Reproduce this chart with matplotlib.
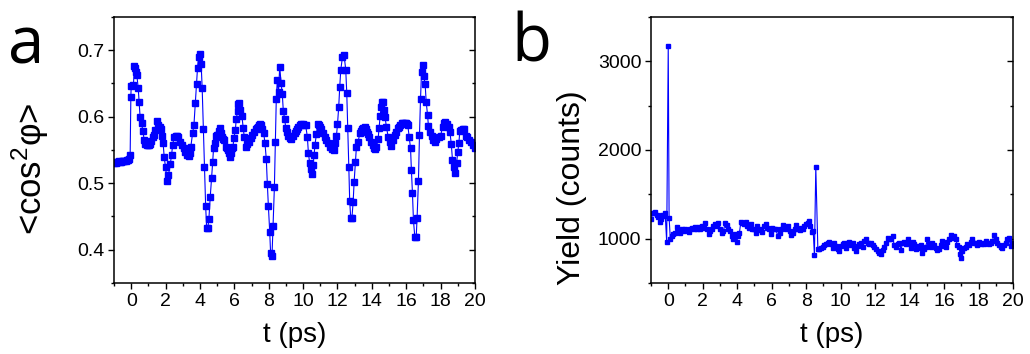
import matplotlib
matplotlib.use("Agg")
import matplotlib.pyplot as plt
import matplotlib.lines as mlines
from matplotlib.ticker import MultipleLocator

# ---------------- data: panel a  (<cos^2 phi> vs delay) ----------------
t_a = [-1.0, -0.93, -0.87, -0.8, -0.73, -0.67, -0.6, -0.53, -0.47, -0.4, -0.33, -0.27, -0.2, -0.13, -0.06,
       -0.02, 0.0, 0.13, 0.19, 0.25, 0.29, 0.33, 0.41, 0.46, 0.52, 0.6, 0.68, 0.755, 0.83, 0.9, 0.97,
       1.03, 1.08, 1.14, 1.24, 1.34, 1.4, 1.51, 1.58, 1.65, 1.72, 1.8, 1.86, 1.92, 2.0, 2.08, 2.17,
       2.27, 2.35, 2.41, 2.5, 2.58, 2.66, 2.74, 2.85, 2.95, 3.05, 3.14, 3.24, 3.34, 3.41, 3.47, 3.57,
       3.65, 3.73, 3.8, 3.86, 3.92, 3.98, 4.07, 4.13, 4.2, 4.26, 4.33, 4.39, 4.46, 4.52, 4.6, 4.68,
       4.74, 4.79, 4.85, 4.91, 4.98, 5.05, 5.12, 5.18, 5.24, 5.3, 5.36, 5.41, 5.49, 5.55, 5.61, 5.67,
       5.73, 5.79, 5.84, 5.92, 5.98, 6.06, 6.11, 6.19, 6.23, 6.27, 6.35, 6.44, 6.52, 6.58, 6.66, 6.75,
       6.85, 6.95, 7.05, 7.14, 7.24, 7.31, 7.38, 7.45, 7.51, 7.57, 7.63, 7.71, 7.78, 7.86, 7.92, 7.98,
       8.06, 8.11, 8.19, 8.25, 8.33, 8.39, 8.44, 8.5, 8.57, 8.64, 8.72, 8.79, 8.85, 8.93, 8.99, 9.07,
       9.14, 9.22, 9.32, 9.41, 9.51, 9.58, 9.65, 9.72, 9.8, 9.9, 10.0, 10.07, 10.15, 10.25, 10.31,
       10.38, 10.46, 10.52, 10.58, 10.64, 10.69, 10.77, 10.85, 10.91, 10.97, 11.06, 11.16, 11.26,
       11.35, 11.45, 11.55, 11.67, 11.78, 11.86, 11.94, 12.0, 12.07, 12.13, 12.19, 12.29, 12.38,
       12.48, 12.54, 12.6, 12.66, 12.71, 12.77, 12.84, 12.91, 12.97, 13.04, 13.1, 13.2, 13.3, 13.37,
       13.43, 13.51, 13.59, 13.66, 13.72, 13.78, 13.84, 13.94, 14.04, 14.1, 14.17, 14.27, 14.36,
       14.42, 14.48, 14.54, 14.6, 14.65, 14.7, 14.77, 14.85, 14.95, 15.04, 15.14, 15.24, 15.33,
       15.43, 15.53, 15.6, 15.66, 15.74, 15.82, 15.9, 15.97, 16.03, 16.09, 16.17, 16.25, 16.3, 16.36,
       16.42, 16.5, 16.58, 16.63, 16.71, 16.77, 16.83, 16.89, 16.95, 17.02, 17.1, 17.16, 17.24,
       17.29, 17.37, 17.47, 17.57, 17.66, 17.76, 17.88, 18.0, 18.11, 18.18, 18.25, 18.36, 18.46,
       18.54, 18.62, 18.69, 18.77, 18.85, 18.93, 19.0, 19.06, 19.12, 19.18, 19.24, 19.3, 19.35,
       19.45, 19.55, 19.66, 19.78, 19.9, 20.0]
cos2_a = [0.531, 0.532, 0.531, 0.532, 0.533, 0.532, 0.532, 0.533, 0.533, 0.534, 0.533, 0.535, 0.535, 0.537, 0.5425,
          0.63, 0.646, 0.6475, 0.6765, 0.673, 0.668, 0.6625, 0.6425, 0.6225, 0.599, 0.59, 0.579, 0.565, 0.559, 0.5575, 0.557,
          0.5575, 0.559, 0.5635, 0.569, 0.5725, 0.58, 0.594, 0.588, 0.584, 0.581, 0.571, 0.56, 0.539, 0.524, 0.504, 0.5125,
          0.5285, 0.5425, 0.5575, 0.57, 0.571, 0.571, 0.57, 0.5625, 0.5575, 0.5525, 0.5475, 0.5425, 0.541, 0.546, 0.555, 0.575,
          0.5875, 0.621, 0.65, 0.674, 0.69, 0.695, 0.679, 0.6425, 0.581, 0.525, 0.4665, 0.4325, 0.4325, 0.4465, 0.48, 0.5085,
          0.5315, 0.5525, 0.56, 0.571, 0.572, 0.5725, 0.578, 0.5835, 0.575, 0.57, 0.567, 0.565, 0.555, 0.553, 0.55, 0.545,
          0.54, 0.546, 0.5525, 0.555, 0.5685, 0.58, 0.5965, 0.6085, 0.619, 0.62, 0.61, 0.601, 0.5835, 0.569, 0.555, 0.5585,
          0.5625, 0.5675, 0.5725, 0.5775, 0.581, 0.583, 0.585, 0.587, 0.5885, 0.587, 0.581, 0.575, 0.561, 0.536, 0.499, 0.466,
          0.426, 0.395, 0.39, 0.436, 0.494, 0.5625, 0.626, 0.656, 0.637, 0.675, 0.651, 0.634, 0.6085, 0.596, 0.5835, 0.5775,
          0.571, 0.5685, 0.566, 0.571, 0.576, 0.578, 0.581, 0.584, 0.5875, 0.589, 0.589, 0.588, 0.5875, 0.569, 0.545,
          0.531, 0.521, 0.514, 0.5275, 0.5425, 0.5575, 0.5735, 0.5885, 0.587, 0.585, 0.581, 0.575, 0.57,
          0.565, 0.56, 0.555, 0.551, 0.55, 0.561, 0.571, 0.5885, 0.614, 0.644, 0.67, 0.69, 0.6935,
          0.671, 0.636, 0.5825, 0.524, 0.474, 0.4475, 0.4475, 0.4715, 0.5025, 0.5315, 0.554, 0.5625, 0.575, 0.579,
          0.581, 0.583, 0.584, 0.581, 0.5775, 0.574, 0.57, 0.5625, 0.5575, 0.553, 0.551, 0.555, 0.566,
          0.5825, 0.601, 0.614, 0.6225, 0.6225, 0.61, 0.599, 0.584, 0.57, 0.5625, 0.556, 0.565, 0.5725,
          0.5775, 0.5825, 0.585, 0.5875, 0.59, 0.591, 0.591, 0.591, 0.589, 0.5875, 0.57, 0.5525, 0.52, 0.486,
          0.444, 0.419, 0.419, 0.4475, 0.5035, 0.5725, 0.6265, 0.6675, 0.6775, 0.661, 0.649, 0.6225, 0.6025,
          0.5865, 0.5775, 0.571, 0.565, 0.5625, 0.566, 0.57, 0.571, 0.585, 0.59, 0.5925, 0.589, 0.584,
          0.5775, 0.559, 0.535, 0.525, 0.515, 0.531, 0.5475, 0.56, 0.579, 0.58, 0.58, 0.581, 0.581,
          0.571, 0.569, 0.565, 0.5625, 0.5575, 0.5525]

# ---------------- data: panel b  (ion yield vs delay) ----------------
t_b = [-0.98, -0.9, -0.82, -0.74, -0.66, -0.58, -0.5, -0.42, -0.34, -0.26, -0.18, -0.09, 0.0, 0.05, 0.12,
       0.195, 0.29, 0.39, 0.5, 0.58, 0.7, 0.79, 0.89, 0.99, 1.08, 1.18, 1.27, 1.37, 1.47, 1.56, 1.66,
       1.76, 1.85, 1.95, 2.05, 2.14, 2.24, 2.34, 2.43, 2.53, 2.62, 2.72, 2.82, 2.91, 3.01, 3.11, 3.2,
       3.3, 3.4, 3.49, 3.59, 3.68, 3.78, 3.88, 3.97, 4.05, 4.13, 4.21, 4.3, 4.4, 4.49, 4.59, 4.69,
       4.78, 4.88, 4.98, 5.07, 5.17, 5.27, 5.36, 5.46, 5.55, 5.65, 5.75, 5.84, 5.94, 6.04, 6.13, 6.23,
       6.36, 6.46, 6.55, 6.65, 6.75, 6.84, 6.94, 7.04, 7.13, 7.23, 7.33, 7.42, 7.52, 7.62, 7.71, 7.81,
       7.9, 8.0, 8.1, 8.19, 8.25, 8.33, 8.41, 8.48, 8.56, 8.68, 8.77, 8.87, 8.96, 9.06, 9.16, 9.25,
       9.35, 9.45, 9.54, 9.64, 9.74, 9.83, 9.93, 10.03, 10.12, 10.22, 10.31, 10.41, 10.51, 10.6, 10.7,
       10.8, 10.89, 10.99, 11.09, 11.18, 11.28, 11.37, 11.47, 11.57, 11.66, 11.76, 11.86, 11.95, 12.05,
       12.15, 12.24, 12.34, 12.43, 12.53, 12.63, 12.72, 12.82, 12.92, 13.01, 13.11, 13.21, 13.3, 13.4,
       13.5, 13.59, 13.69, 13.78, 13.88, 13.98, 14.07, 14.17, 14.27, 14.36, 14.46, 14.55, 14.65, 14.75,
       14.84, 14.94, 15.04, 15.13, 15.23, 15.33, 15.42, 15.52, 15.62, 15.71, 15.81, 15.9, 16.0, 16.1,
       16.19, 16.29, 16.39, 16.48, 16.58, 16.68, 16.77, 16.87, 16.93, 17.0, 17.06, 17.16, 17.25, 17.35,
       17.45, 17.54, 17.64, 17.74, 17.83, 17.93, 18.03, 18.12, 18.22, 18.31, 18.41, 18.51, 18.6, 18.7,
       18.8, 18.89, 18.99, 19.09, 19.18, 19.28, 19.38, 19.47, 19.57, 19.66, 19.76, 19.86, 19.95]
yield_b = [1220, 1295, 1290, 1305, 1270, 1250, 1185, 1220, 1265, 1255, 1290, 962, 3172, 1235, 1000,
           1029, 1048, 1067, 1134, 1085, 1067, 1104, 1085, 1111, 1097, 1074, 1111, 1123, 1104, 1134, 1111,
           1134, 1104, 1141, 1123, 1179, 1111, 1048, 1085, 1111, 1141, 1160, 1141, 1179, 1111, 1067, 1085,
           1179, 1149, 1111, 1085, 1029, 992, 1048, 962, 1029, 1067, 1186, 1179, 1160, 1186, 1141, 1123,
           1160, 1111, 1104, 1067, 1141, 1097, 1111, 1074, 1141, 1160, 1123, 1104, 1048, 1123, 1104, 1111,
           1029, 1067, 1104, 1149, 1134, 1111, 1141, 1085, 1037, 1067, 1104, 1149, 1111, 1097, 1123, 1111,
           1141, 1160, 1179, 1197, 1141, 1074, 1085, 813, 1806, 880, 880, 899, 910, 925, 936, 955,
           962, 936, 899, 947, 917, 888, 861, 917, 936, 955, 899, 947, 962, 925, 955,
           899, 861, 917, 936, 955, 910, 973, 992, 955, 936, 955, 925, 910, 888,
           861, 843, 824, 873, 910, 955, 1011, 1000, 992, 1029, 925, 910, 936, 955,
           873, 947, 962, 936, 1000, 947, 899, 962, 936, 888, 917, 899, 925, 843,
           880, 910, 1000, 936, 910, 955, 925, 899, 873, 888, 925, 973, 917, 910,
           962, 992, 1037, 1011, 1029, 1000, 925, 910, 824, 787, 861, 899, 910, 936,
           925, 962, 992, 955, 947, 925, 962, 936, 955, 936, 973, 955, 936, 955,
           973, 1037, 992, 955, 925, 910, 899, 925, 955, 1000, 1011, 917, 950]

xticks = [0, 2, 4, 6, 8, 10, 12, 14, 16, 18, 20]
yticks_a = [0.4, 0.5, 0.6, 0.7]
yticks_b = [1000, 2000, 3000]

# ---------------- styling ----------------
plt.rcParams['font.family'] = ['Liberation Sans', 'DejaVu Sans']
plt.rcParams['mathtext.fontset'] = 'custom'
plt.rcParams['mathtext.rm'] = 'Liberation Sans'
plt.rcParams['mathtext.it'] = 'Liberation Sans:italic'
BLUE = '#0000ff'

fig = plt.figure(figsize=(10.30, 3.54), dpi=100)
ax_a = fig.add_axes([114/1030, 1-283/354, 361/1030, 266/354])
ax_b = fig.add_axes([651/1030, 1-283/354, 362/1030, 266/354])

ax_a.plot(t_a, cos2_a, '-', color=BLUE, lw=0.8, marker='s', ms=4.2, mec=BLUE, mfc=BLUE)
ax_b.plot(t_b, yield_b, '-', color=BLUE, lw=0.8, marker='s', ms=2.6, mec=BLUE, mfc=BLUE)

ax_a.set_xlim(-1, 20)
ax_a.set_ylim(0.35, 0.75)
ax_a.set_yticks(yticks_a)
ax_a.yaxis.set_minor_locator(MultipleLocator(0.05))

ax_b.set_xlim(-1, 20)
ax_b.set_ylim(500, 3500)
ax_b.set_yticks(yticks_b)
ax_b.yaxis.set_minor_locator(MultipleLocator(500))

for ax in (ax_a, ax_b):
    ax.set_xticks(xticks)
    ax.xaxis.set_minor_locator(MultipleLocator(1))
    ax.tick_params(axis='both', which='major', labelsize=14, direction='out', length=4, width=1.0, pad=3)
    ax.tick_params(axis='both', which='minor', direction='out', length=2.5, width=1.0)
    ax.tick_params(axis='y', which='both', right=True, labelright=False)
    for sp in ax.spines.values():
        sp.set_linewidth(1.1)
    ax.set_xlabel('t (ps)', fontsize=20, labelpad=9)
    # right-side ticks point inward
    for tick in ax.yaxis.get_major_ticks() + ax.yaxis.get_minor_ticks():
        tick.tick2line.set_marker(mlines.TICKLEFT)

ax_a.set_ylabel(r'<cos$^{2}$φ>', fontsize=25)
ax_a.yaxis.set_label_coords(-0.175, 0.43)
ax_b.set_ylabel('Yield (counts)', fontsize=23)
ax_b.yaxis.set_label_coords(-0.178, 0.36)

fig.text(8/1030, 1-64/354, 'a', fontsize=47, family=['Open Sans', 'DejaVu Sans'], va='baseline')
fig.text(511/1030, 1-62/354, 'b', fontsize=47, family=['Open Sans', 'DejaVu Sans'], va='baseline')

fig.savefig('out.png', dpi=100)
